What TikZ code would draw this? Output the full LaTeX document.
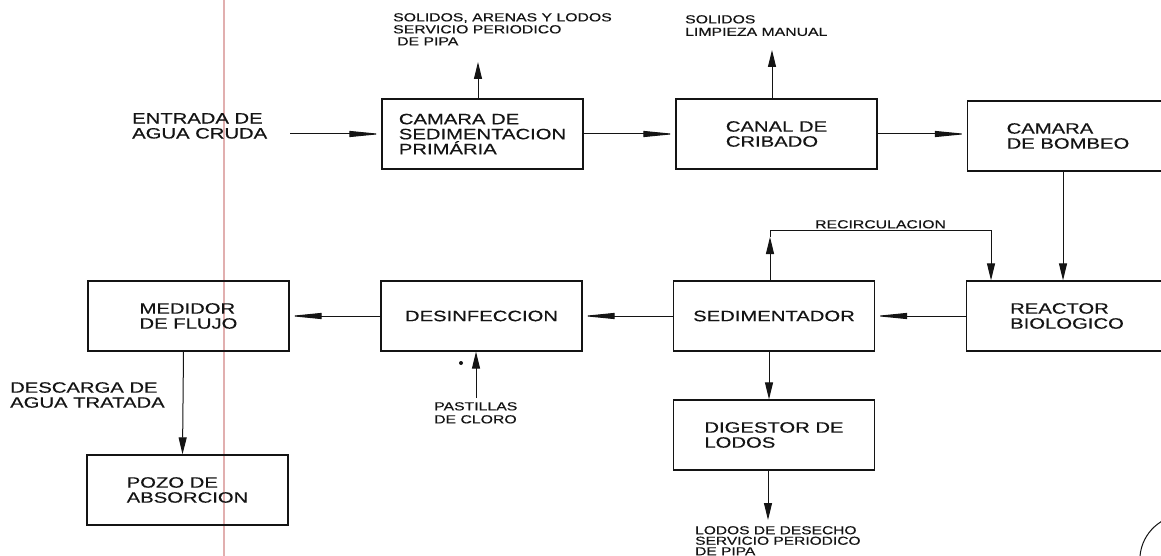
\documentclass[tikz,border=0pt]{standalone}
\usepackage{fontspec}
\setmainfont{Liberation Sans}[FakeStretch=1.35,FakeBold=0.4]
\usetikzlibrary{arrows.meta}
\newcommand{\diagbig}{\fontsize{15}{15}\selectfont}
\newcommand{\diagsmall}{\fontsize{11.7}{12}\selectfont}
\definecolor{redline}{RGB}{225,175,175}
\definecolor{ink}{RGB}{20,20,20}
\begin{document}
\begin{tikzpicture}[x=1pt,y=-1pt,
  box/.style={draw=ink, line width=1.2pt, minimum width=201pt, minimum height=70pt, inner sep=0pt, align=left, font=\diagbig, text=ink},
  lab/.style={anchor=north west, inner sep=0pt, align=left, text=ink},
  harr/.style={draw=ink, line width=1pt, -{Triangle[length=32pt,width=6pt]}},
  varr/.style={draw=ink, line width=1pt, -{Triangle[length=17pt,width=8pt]}}]
\useasboundingbox (0,0) rectangle (1161,556);
\fill[white] (0,0) rectangle (1161,556);
% pink margin line
\draw[redline, line width=1.2pt] (224,0) -- (224,556);
% boxes
\node[box] (cam)   at (482.5,134) {CAMARA DE\\SEDIMENTACION\\PRIMÁRIA};
\node[box] (canal) at (776.5,134) {CANAL DE\\CRIBADO};
\node[box] (bomb)  at (1068,136) {CAMARA\\DE BOMBEO};
\node[box] (reac)  at (1067,316) {REACTOR\\BIOLOGICO};
\node[box] (sed)   at (774,316) {SEDIMENTADOR};
\node[box] (desi)  at (481.5,316) {DESINFECCION};
\node[box] (med)   at (188.5,316) {MEDIDOR\\DE FLUJO};
\node[box] (pozo)  at (187.5,490) {POZO DE\\ABSORCION};
\node[box] (dig)   at (774,435) {DIGESTOR DE\\LODOS};
% labels
\node[lab, font=\diagsmall] (l1) at (393,13) {SOLIDOS, ARENAS Y LODOS\\SERVICIO PERIODICO\\\hspace*{4pt}DE PIPA};
\node[lab, font=\fontsize{11.7}{12.5}\selectfont] (l2) at (685,15) {SOLIDOS\\LIMPIEZA MANUAL};
\node[lab, font=\diagbig] (l3) at (132,113) {ENTRADA DE\\AGUA CRUDA};
\node[lab, font=\diagsmall] (l4) at (815,220) {RECIRCULACION};
\node[lab, font=\fontsize{11.7}{13}\selectfont] (l5) at (434,402) {PASTILLAS\\DE CLORO};
\node[lab, font=\diagbig] (l6) at (10,382) {DESCARGA DE\\AGUA TRATADA};
\node[lab, font=\fontsize{11.5}{10.5}\selectfont] (l7) at (695,526) {LODOS DE DESECHO\\SERVICIO PERIODICO\\DE PIPA};
% free ends
\coordinate (ein) at (290,134);
\coordinate (camup) at (478,62);
\coordinate (canup) at (772,50);
\coordinate (clin) at (476,398);
\coordinate (lout) at (768,520);
\coordinate (rcm) at (770,237);
\coordinate (rc1) at (770,230);
\coordinate (rc2) at (991,230);
% connectors
\draw[harr] (ein) -- (cam.west);
\draw[harr] (cam.east) -- (canal.west);
\draw[harr] (canal.east) -- (canal.east -| bomb.west);
\draw[varr] ([xshift=-5pt]bomb.south) -- ([xshift=-5pt]bomb.south |- reac.north);
\draw[harr] (reac.west) -- (sed.east);
\draw[harr] (sed.west) -- (desi.east);
\draw[harr] (desi.west) -- (med.east);
\draw[varr] ([xshift=-5pt]med.south) -- ([xshift=-5pt]pozo.north);
\draw[varr] ([xshift=-5pt]sed.south) -- ([xshift=-5pt]dig.north);
\draw[varr] (lout |- dig.south) -- (lout);
\draw[varr] (camup |- cam.north) -- (camup);
\draw[varr] (canup |- canal.north) -- (canup);
\draw[varr] (clin) -- (clin |- desi.south);
\draw[varr] (rcm |- sed.north) -- (rcm);
\draw[varr] (rcm) -- (rc1) -- (rc2) -- (rc2 |- reac.north);
% speck near chlorine input
\fill[ink] (461,363) circle (2pt);
% arc at lower right
\draw[ink, line width=1pt] (1140,556) arc[start angle=185, end angle=270, radius=45];
\end{tikzpicture}
\end{document}
